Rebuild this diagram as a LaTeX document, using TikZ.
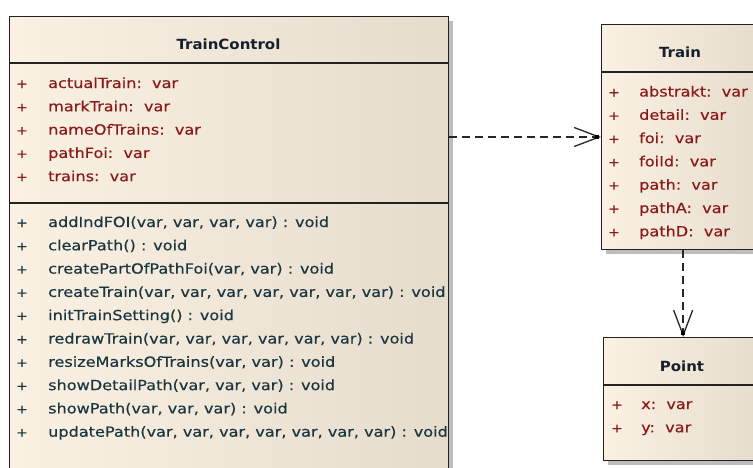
\documentclass[tikz,border=0pt]{standalone}
\usepackage{fontspec}
\newfontfamily\classfont{DejaVu Sans}[FakeStretch=1.15, FakeBold=0.4]
\newfontfamily\titlefont{DejaVu Sans}[FakeStretch=1.07]
\usetikzlibrary{arrows.meta,calc}

\definecolor{boxleft}{HTML}{FBF1E3}
\definecolor{boxright}{HTML}{E6DCCC}
\definecolor{attrcol}{HTML}{8A1A1A}
\definecolor{opcol}{HTML}{1A3640}
\definecolor{titlecol}{HTML}{14202C}
\definecolor{edgecol}{HTML}{222222}
\definecolor{shadowcol}{HTML}{BDBDBD}

\tikzset{
  classbox/.style={rectangle, draw=edgecol, line width=1.3pt,
    left color=boxleft, right color=boxright, anchor=north west, inner sep=0pt},
  shadowbox/.style={rectangle, fill=shadowcol, draw=none, anchor=north west, inner sep=0pt},
  ctitle/.style={font=\titlefont\bfseries\fontsize{14}{16}\selectfont, text=titlecol,
    anchor=base, inner sep=0pt},
  vis/.style={font=\classfont\fontsize{12}{14}\selectfont, anchor=base, inner sep=0pt},
  attr/.style={font=\classfont\fontsize{14}{16}\selectfont, text=attrcol,
    anchor=base west, inner sep=0pt},
  oper/.style={font=\classfont\fontsize{14}{16}\selectfont, text=opcol,
    anchor=base west, inner sep=0pt},
  sepline/.style={draw=edgecol, line width=1.3pt},
  dep/.style={draw=black!85, line width=1.4pt, dash pattern=on 8pt off 5pt,
    -{Straight Barb[length=25pt,width=19pt,line width=1.3pt]}},
  tipmark/.style={fill=black},
}

\begin{document}
\begin{tikzpicture}[x=1pt,y=-1pt]
\useasboundingbox (0,0) rectangle (753,467);
\clip (0,0) rectangle (753,467);

% ---------- TrainControl ----------
\node[shadowbox, minimum width=439pt, minimum height=480pt] (tcs) at (14,21) {};
\node[classbox, minimum width=439pt, minimum height=480pt] (tc) at (9,16) {};
\draw[sepline] ($(tc.north west)+(0,47)$) -- ($(tc.north east)+(0,47)$);
\draw[sepline] ($(tc.north west)+(0,187)$) -- ($(tc.north east)+(0,187)$);
\node[ctitle] (tct) at (228.5,49) {TrainControl};

\foreach [count=\i] \t in {actualTrain,markTrain,nameOfTrains,pathFoi,trains} {
  \node[vis, text=attrcol] (tcap\i) at (22,{88+23.3*(\i-1)}) {+};
  \node[attr] (tca\i) at (48,{88+23.3*(\i-1)}) {\t:~~var};
}

\foreach [count=\i] \t in {
  {addIndFOI(var, var, var, var) : void},
  {clearPath() : void},
  {createPartOfPathFoi(var, var) : void},
  {createTrain(var, var, var, var, var, var, var) : void},
  {initTrainSetting() : void},
  {redrawTrain(var, var, var, var, var, var) : void},
  {resizeMarksOfTrains(var, var) : void},
  {showDetailPath(var, var, var) : void},
  {showPath(var, var, var) : void},
  {updatePath(var, var, var, var, var, var, var) : void}} {
  \node[vis, text=opcol] (tcop\i) at (22,{227+23.3*(\i-1)}) {+};
  \node[oper] (tco\i) at (48,{227+23.3*(\i-1)}) {\t};
}

% ---------- Train ----------
\node[shadowbox, minimum width=163pt, minimum height=225pt] (trs) at (606,29) {};
\node[classbox, minimum width=163pt, minimum height=225pt] (tr) at (601,24) {};
\draw[sepline] ($(tr.north west)+(0,48)$) -- ($(tr.north east)+(0,48)$);
\node[ctitle] (trt) at (680,57) {Train};

\foreach [count=\i] \t in {abstrakt,detail,foi,foiId,path,pathA,pathD} {
  \node[vis, text=attrcol] (trap\i) at (614,{96.5+23.3*(\i-1)}) {+};
  \node[attr] (tra\i) at (639,{96.5+23.3*(\i-1)}) {\t:~~var};
}

% ---------- Point ----------
\node[shadowbox, minimum width=159pt, minimum height=123pt] (pts) at (608,342) {};
\node[classbox, minimum width=159pt, minimum height=123pt] (pt) at (603,337) {};
\draw[sepline] ($(pt.north west)+(0,48)$) -- ($(pt.north east)+(0,48)$);
\node[ctitle] (ptt) at (682,371) {Point};

\foreach [count=\i] \t in {x,y} {
  \node[vis, text=attrcol] (ptap\i) at (617,{409+23.3*(\i-1)}) {+};
  \node[attr] (pta\i) at (641,{409+23.3*(\i-1)}) {\t:~~var};
}

% ---------- dependencies ----------
\coordinate (deprow) at (0,137);
\draw[dep] (tc.east |- deprow) -- (tr.west |- deprow);
\fill[tipmark] ($(tr.west |- deprow)+(-6,-2)$) rectangle +(4,4);

\draw[dep] (tr.south) -- (pt.north);
\fill[tipmark] ($(pt.north)+(-2,-6)$) rectangle +(4,4);
\end{tikzpicture}
\end{document}
